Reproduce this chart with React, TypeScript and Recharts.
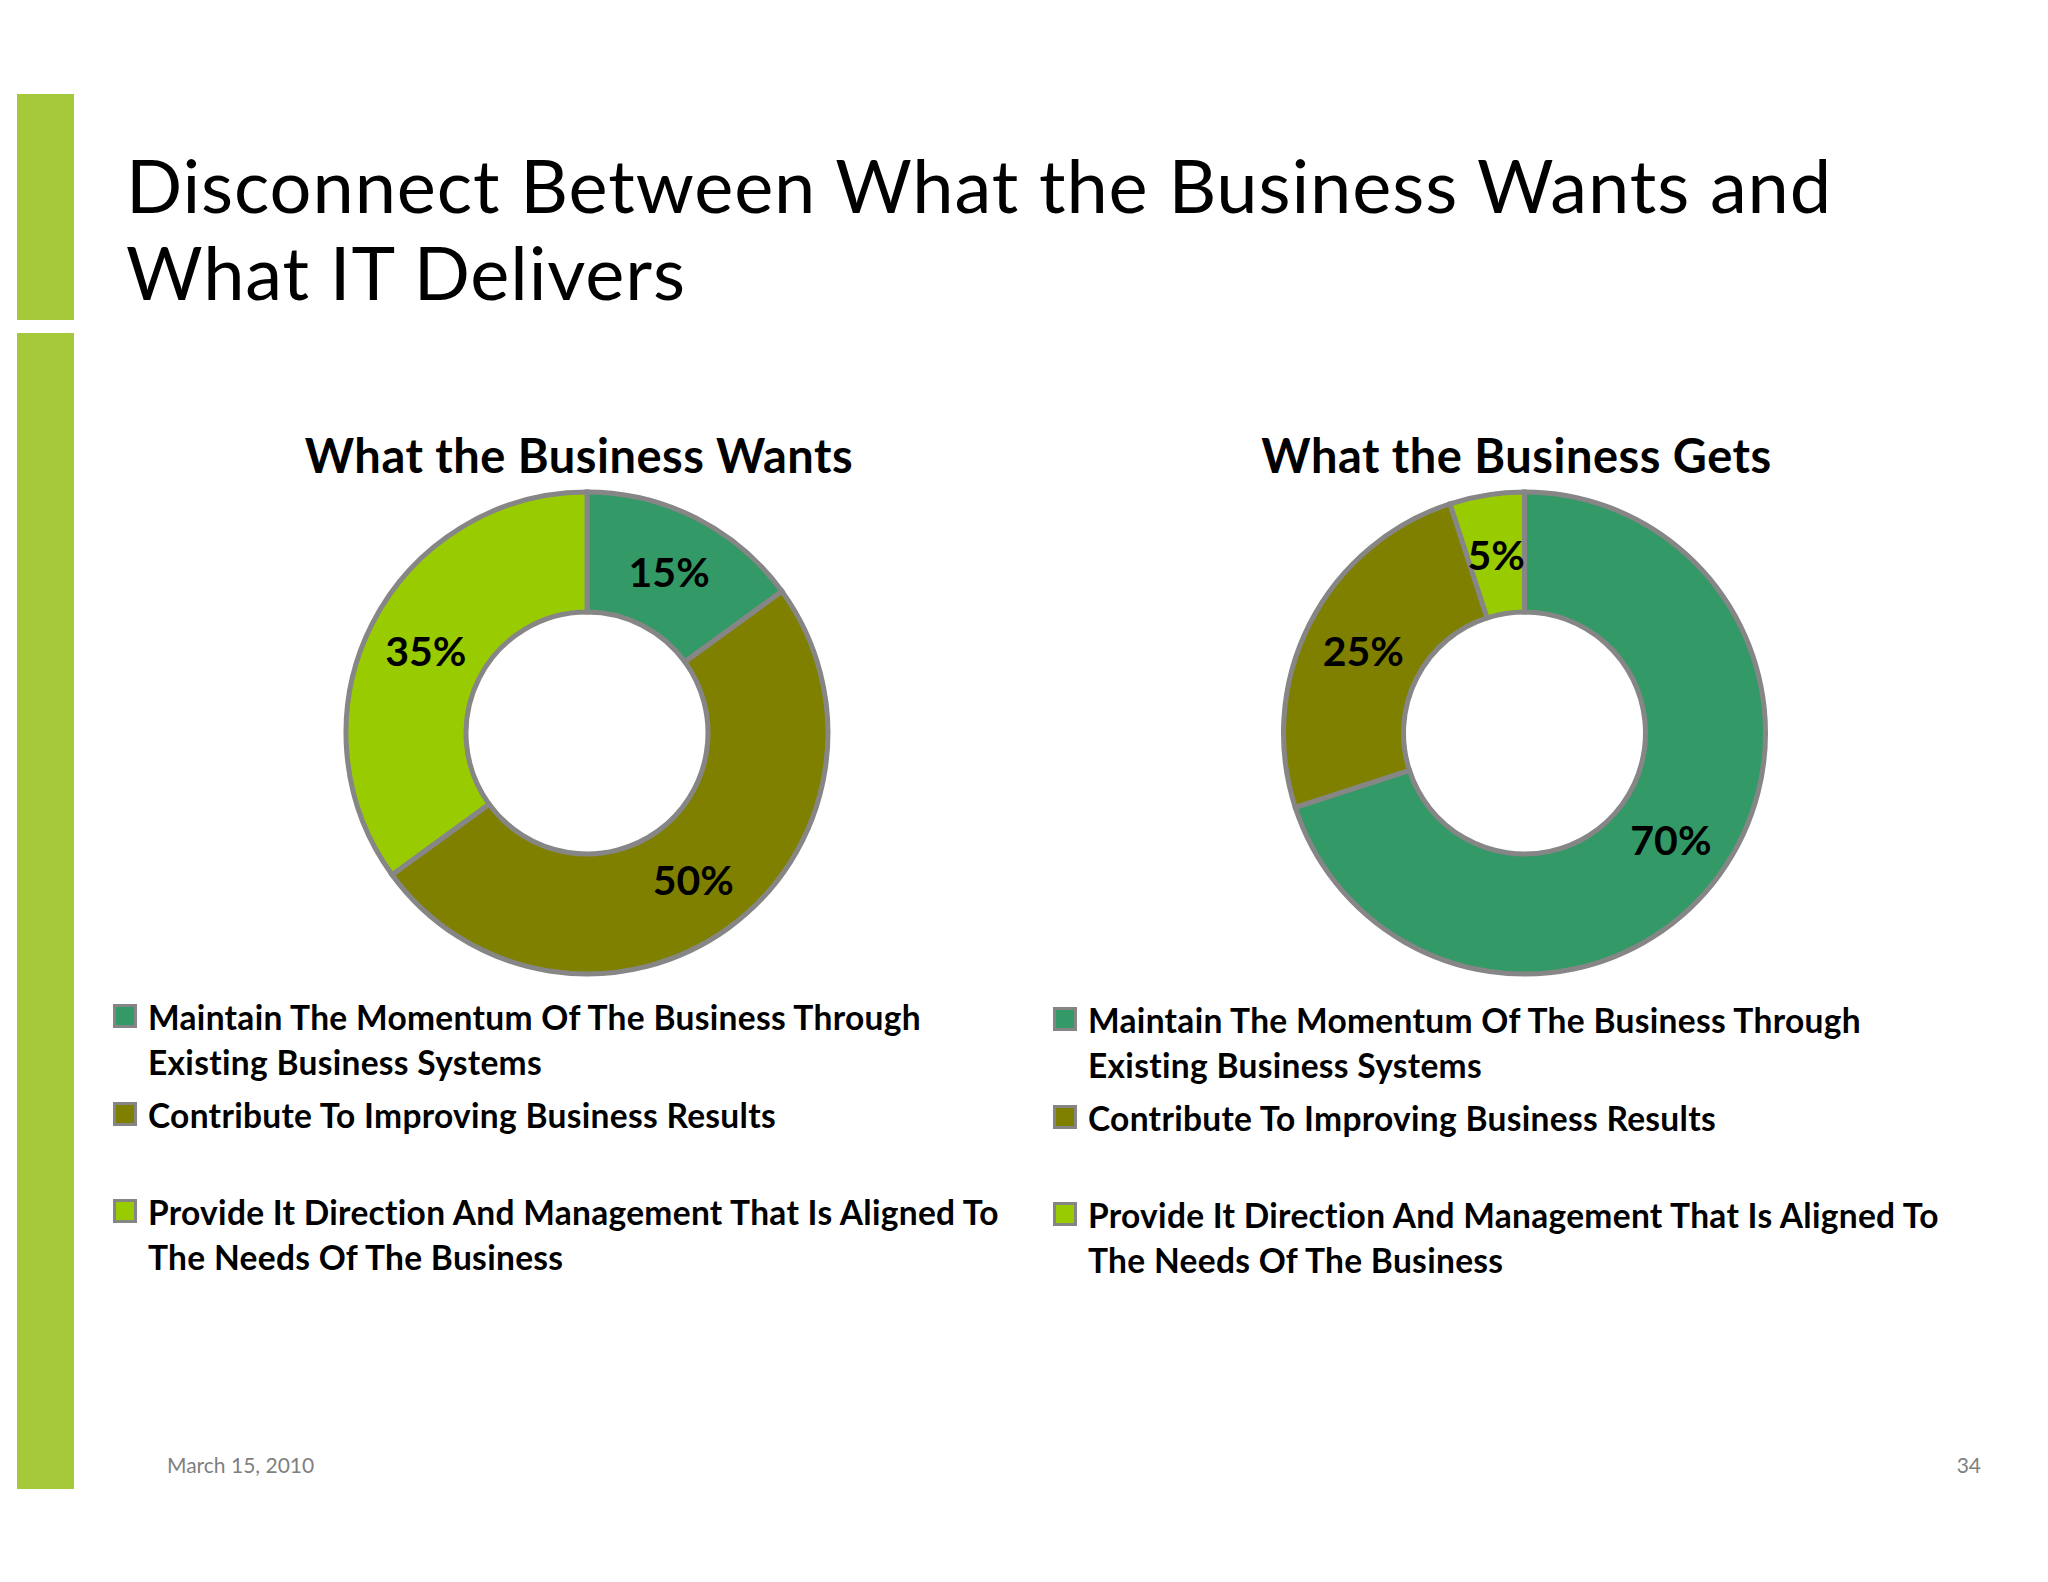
import React from "react";
import { PieChart, Pie, Cell, Legend } from "recharts";

// slice categories, shared by both donuts (clockwise from 12 o'clock)
const categories = [
  "Maintain The Momentum Of The Business Through Existing Business Systems",
  "Contribute To Improving Business Results",
  "Provide It Direction And Management That Is Aligned To The Needs Of The Business",
];
const wantsValues = [15, 50, 35];
const getsValues = [70, 25, 5];
const sliceColors = ["#339966", "#808000", "#99cc00"];
const chartTitles = ["What the Business Wants", "What the Business Gets"];
const slideTitle = ["Disconnect Between What the Business Wants and", "What IT Delivers"];
const footerDate = "March 15, 2010";
const pageNumber = "34";

const FONT = "Lato, 'Open Sans', sans-serif";
const RAD = Math.PI / 180;

const toRows = (values: number[]) =>
  categories.map((name, i) => ({ name, value: values[i] }));

// percentage placed in the middle of the ring, at the slice's mid angle
function renderPct(props: any) {
  const { cx, cy, midAngle, innerRadius, outerRadius, value } = props;
  const r = (innerRadius + outerRadius) / 2;
  const x = cx + r * Math.cos(-midAngle * RAD);
  const y = cy + r * Math.sin(-midAngle * RAD);
  return (
    <text
      x={x}
      y={y}
      textAnchor="middle"
      dominantBaseline="central"
      fill="#000"
      style={{ fontFamily: FONT, fontWeight: 700, fontSize: 41 }}
    >
      {`${value}%`}
    </text>
  );
}

function LegendBox({ payload }: any) {
  // keep the slice order, not recharts' sorted order
  const items = [...(payload || [])].sort(
    (a: any, b: any) => categories.indexOf(a.value) - categories.indexOf(b.value)
  );
  return (
    <div style={{ width: 920, fontFamily: FONT }}>
      {items.map((entry: any) => {
        const idx = categories.indexOf(entry.value);
        return (
          <div key={entry.value} style={{ position: "relative", height: 97.5, paddingLeft: 35 }}>
            <span
              style={{
                position: "absolute",
                left: 0,
                top: 9,
                width: 18,
                height: 18,
                border: "3px solid #858585",
                background: sliceColors[idx],
              }}
            />
            <div
              style={{
                width: 880,
                fontSize: 33.5,
                letterSpacing: 0.3,
                lineHeight: "44.5px",
                fontWeight: 700,
                color: "#000",
              }}
            >
              {entry.value}
            </div>
          </div>
        );
      })}
    </div>
  );
}

interface DonutProps {
  title: string;
  values: number[];
  left: number;
  cx: number;
  legendTop: number;
}

function Donut({ title, values, left, cx, legendTop }: DonutProps) {
  return (
    <div style={{ position: "absolute", left, top: 420, width: 960, height: 900 }}>
      <div
        style={{
          position: "absolute",
          left: cx - 408,
          top: 9,
          width: 800,
          textAlign: "center",
          fontFamily: FONT,
          fontWeight: 700,
          fontSize: 47,
          letterSpacing: 0.5,
          lineHeight: "52px",
          color: "#000",
        }}
      >
        {title}
      </div>
      <PieChart width={960} height={900} margin={{ top: 0, right: 0, bottom: 0, left: 0 }}>
        <Pie
          data={toRows(values)}
          dataKey="value"
          nameKey="name"
          cx={cx}
          cy={313}
          innerRadius={121}
          outerRadius={241}
          startAngle={90}
          endAngle={-270}
          stroke="#868686"
          strokeWidth={5}
          label={renderPct}
          labelLine={false}
          isAnimationActive={false}
        >
          {values.map((_, i) => (
            <Cell key={i} fill={sliceColors[i]} />
          ))}
        </Pie>
        <Legend
          content={<LegendBox />}
          wrapperStyle={{ left: 13, top: legendTop, width: 920, bottom: "auto" }}
        />
      </PieChart>
    </div>
  );
}

export default function App() {
  return (
    <div
      style={{
        position: "absolute",
        left: 0,
        top: 0,
        width: 2048,
        height: 1582,
        background: "#fff",
        overflow: "hidden",
        fontFamily: FONT,
      }}
    >
      {/* green side bars */}
      <div style={{ position: "absolute", left: 17, top: 94, width: 57, height: 226, background: "#a5c93a" }} />
      <div style={{ position: "absolute", left: 17, top: 333, width: 57, height: 1156, background: "#a5c93a" }} />

      <div
        style={{
          position: "absolute",
          left: 126,
          top: 141,
          fontSize: 74,
          letterSpacing: 0.9,
          lineHeight: "87px",
          color: "#000",
          whiteSpace: "nowrap",
        }}
      >
        {slideTitle.map((line, i) => (
          <div key={i}>{line}</div>
        ))}
      </div>

      <Donut title={chartTitles[0]} values={wantsValues} left={100} cx={487} legendTop={575} />
      <Donut title={chartTitles[1]} values={getsValues} left={1040} cx={484.5} legendTop={578} />

      <div style={{ position: "absolute", left: 167, top: 1452, fontSize: 21, lineHeight: "26px", color: "#7f7f7f" }}>
        {footerDate}
      </div>
      <div
        style={{
          position: "absolute",
          left: 1881,
          top: 1452,
          width: 100,
          textAlign: "right",
          fontSize: 21,
          lineHeight: "26px",
          color: "#7f7f7f",
        }}
      >
        {pageNumber}
      </div>
    </div>
  );
}
